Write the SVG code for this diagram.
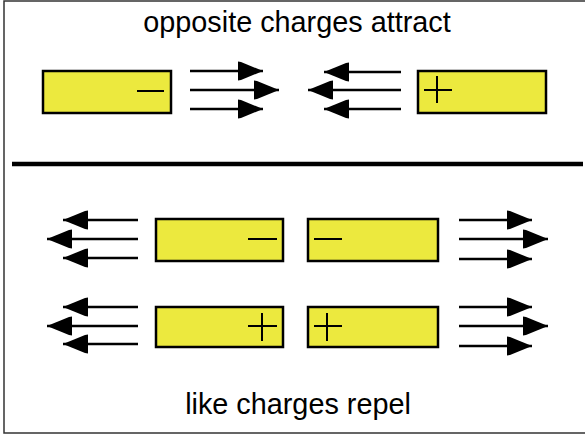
<svg xmlns="http://www.w3.org/2000/svg" width="585" height="435" viewBox="0 0 585 435">
<style>
.lbl{font-family:"Liberation Sans",Arial,sans-serif;font-size:28.8px;fill:#000;text-anchor:middle}
.plate{fill:#ECE93E;stroke:#000;stroke-width:2.5}
.sign{stroke:#000;stroke-width:2;fill:none}
.arr{stroke:#000;stroke-width:2.5;fill:none;marker-end:url(#ah)}
</style>
<defs>
<marker id="ah" markerUnits="userSpaceOnUse" viewBox="0 -10 26 20" markerWidth="26" markerHeight="20" refX="25" refY="0" orient="auto">
<path d="M0,-9.5 L3,-9 L25,0 L3,9 L0,9.5 Z" fill="#000"/>
</marker>
</defs>
<rect x="0" y="0" width="585" height="435" fill="#fff"/>
<path d="M585,1 H4 V433 H585" fill="none" stroke="#333" stroke-width="1.5"/>
<line x1="12" y1="164" x2="583" y2="164" stroke="#000" stroke-width="4.5"/>
<text class="lbl" x="297" y="32">opposite charges attract</text>
<text class="lbl" x="298" y="414">like charges repel</text>
<g id="top-neg">
<rect class="plate" x="43" y="71" width="128" height="42"/>
<line class="sign" x1="137" y1="91" x2="164" y2="91"/>
</g>
<g id="top-pos">
<rect class="plate" x="418" y="71" width="128" height="42"/>
<line class="sign" x1="424" y1="90" x2="452" y2="90"/>
<line class="sign" x1="437" y1="76" x2="437" y2="103"/>
</g>
<g id="row1-left-neg">
<rect class="plate" x="156" y="219" width="127" height="42"/>
<line class="sign" x1="248" y1="239" x2="277" y2="239"/>
</g>
<g id="row1-right-neg">
<rect class="plate" x="308" y="219" width="130" height="42"/>
<line class="sign" x1="314" y1="239" x2="342" y2="239"/>
</g>
<g id="row2-left-pos">
<rect class="plate" x="156" y="307" width="127" height="40"/>
<line class="sign" x1="248" y1="326" x2="277" y2="326"/>
<line class="sign" x1="262" y1="313" x2="262" y2="341"/>
</g>
<g id="row2-right-pos">
<rect class="plate" x="308" y="307" width="130" height="40"/>
<line class="sign" x1="314" y1="326" x2="342" y2="326"/>
<line class="sign" x1="327" y1="313" x2="327" y2="341"/>
</g>
<g id="connectors">
<line class="arr" x1="190" y1="71" x2="263" y2="71"/>
<line class="arr" x1="190" y1="90" x2="279" y2="90"/>
<line class="arr" x1="190" y1="109" x2="263" y2="109"/>
<line class="arr" x1="401" y1="72" x2="324" y2="72"/>
<line class="arr" x1="401" y1="90" x2="308" y2="90"/>
<line class="arr" x1="401" y1="109" x2="324" y2="109"/>
<line class="arr" x1="138" y1="220" x2="63" y2="220"/>
<line class="arr" x1="138" y1="239" x2="47" y2="239"/>
<line class="arr" x1="138" y1="258" x2="63" y2="258"/>
<line class="arr" x1="138" y1="307" x2="63" y2="307"/>
<line class="arr" x1="138" y1="326" x2="47" y2="326"/>
<line class="arr" x1="138" y1="344" x2="63" y2="344"/>
<line class="arr" x1="459" y1="220" x2="532" y2="220"/>
<line class="arr" x1="459" y1="239" x2="548" y2="239"/>
<line class="arr" x1="459" y1="259" x2="532" y2="259"/>
<line class="arr" x1="459" y1="307" x2="532" y2="307"/>
<line class="arr" x1="459" y1="326" x2="548" y2="326"/>
<line class="arr" x1="459" y1="346" x2="532" y2="346"/>
</g>
</svg>
